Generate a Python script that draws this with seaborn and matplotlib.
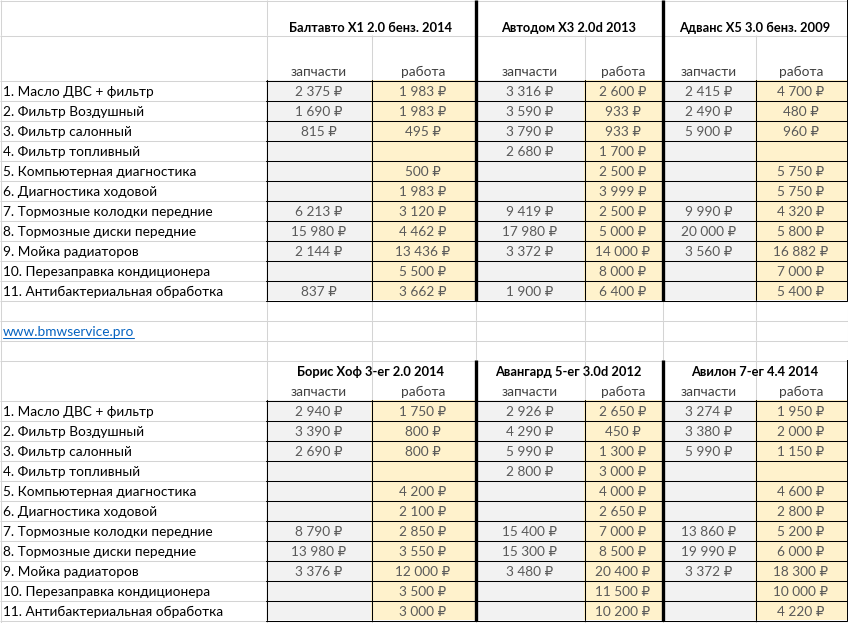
"""
Сравнение цен на ТО BMW у дилеров (таблица в стиле Excel)
"""

import matplotlib
matplotlib.use("Agg")
import matplotlib.pyplot as plt
import seaborn as sns

# ------------------------------------------------------------------
# Данные
# ------------------------------------------------------------------
ITEMS = [
    "1. Масло ДВС + фильтр",
    "2. Фильтр Воздушный",
    "3. Фильтр салонный",
    "4. Фильтр топливный",
    "5. Компьютерная диагностика",
    "6. Диагностика ходовой",
    "7. Тормозные колодки передние",
    "8. Тормозные диски передние",
    "9. Мойка радиаторов",
    "10. Перезаправка кондиционера",
    "11. Антибактериальная обработка",
]
SUB_HEADERS = ["запчасти", "работа"]
LINK = "www.bmwservice.pro"

TOP_DEALERS = ["Балтавто X1 2.0 бенз. 2014", "Автодом X3 2.0d 2013", "Адванс X5 3.0 бенз. 2009"]
TOP_PARTS = [
    [2375, 1690, 815, None, None, None, 6213, 15980, 2144, None, 837],
    [3316, 3590, 3790, 2680, None, None, 9419, 17980, 3372, None, 1900],
    [2415, 2490, 5900, None, None, None, 9990, 20000, 3560, None, None],
]
TOP_WORK = [
    [1983, 1983, 495, None, 500, 1983, 3120, 4462, 13436, 5500, 3662],
    [2600, 933, 933, 1700, 2500, 3999, 2500, 5000, 14000, 8000, 6400],
    [4700, 480, 960, None, 5750, 5750, 4320, 5800, 16882, 7000, 5400],
]

BOTTOM_DEALERS = ["Борис Хоф 3-ег 2.0 2014", "Авангард 5-ег 3.0d 2012", "Авилон 7-ег 4.4 2014"]
BOTTOM_PARTS = [
    [2940, 3390, 2690, None, None, None, 8790, 13980, 3376, None, None],
    [2926, 4290, 5990, 2800, None, None, 15400, 15300, 3480, None, None],
    [3274, 3380, 5990, None, None, None, 13860, 19990, 3372, None, None],
]
BOTTOM_WORK = [
    [1750, 800, 800, None, 4200, 2100, 2850, 3550, 12000, 3500, 3000],
    [2650, 450, 1300, 3000, 4000, 2650, 7000, 8500, 20400, 11500, 10200],
    [1950, 2000, 1150, None, 4600, 2800, 5200, 6000, 18300, 10000, 4220],
]

# ------------------------------------------------------------------
# Геометрия листа (пиксели)
# ------------------------------------------------------------------
COL_EDGES = [0, 266, 371, 475, 584, 662, 755, 847]
ROW_H = 20
TOP_TITLE = (0, 35)
TOP_HEAD = (35, 80)
BOT_TITLE = (360, 380)
BOT_HEAD = (380, 400)
LINK_ROW = (320, 340)

GRID = "#d4d4d4"
FILL_PARTS = "#f2f2f2"
FILL_WORK = "#fff2cc"
TXT_VAL = "#595959"
TXT_HEAD = "#404040"
FONT = ["Lato", "DejaVu Sans"]
FS = 9.8
FS_TITLE = 9.3

sns.set_theme(style="white")
plt.rcParams["font.family"] = FONT


def fmt(v):
    if v is None:
        return ""
    return f"{v:,}".replace(",", " ") + " ₽"


def row_edges():
    edges = [0, 35, 80]
    edges += [80 + ROW_H * i for i in range(1, 15)]
    edges += [400 + ROW_H * i for i in range(0, 13)]
    return sorted(set(edges))


def draw_grid(ax, rows, merged_rows):
    for y in rows:
        ax.plot([0, 848], [y + 0.5, y + 0.5], color=GRID, lw=0.75, solid_capstyle="butt")
    for y0, y1 in zip(rows[:-1], rows[1:]):
        for i, x in enumerate(COL_EDGES):
            if (y0, y1) in merged_rows and i in (2, 4, 6):
                continue
            ax.plot([x + 0.5, x + 0.5], [y0, y1], color=GRID, lw=0.75, solid_capstyle="butt")


def draw_block(ax, title_row, head_row, dealers, parts, work):
    data_y0 = head_row[1]
    data_y1 = data_y0 + ROW_H * len(ITEMS)

    # заливка
    for d in range(3):
        for k, color in enumerate([FILL_PARTS, FILL_WORK]):
            x0 = COL_EDGES[1 + 2 * d + k]
            x1 = COL_EDGES[2 + 2 * d + k]
            ax.add_patch(plt.Rectangle((x0, data_y0), x1 - x0, data_y1 - data_y0,
                                       facecolor=color, edgecolor="none", zorder=2))

    # тонкие чёрные границы
    for r in range(len(ITEMS) + 1):
        y = data_y0 + ROW_H * r + 0.5
        ax.plot([COL_EDGES[1], COL_EDGES[-1]], [y, y], color="black", lw=0.75, zorder=3)
    for x in COL_EDGES[1:]:
        ax.plot([x + 0.5, x + 0.5], [data_y0, data_y1], color="black", lw=0.75, zorder=3)

    # толстые разделители дилеров
    for x in (COL_EDGES[3], COL_EDGES[5]):
        ax.plot([x + 0.5, x + 0.5], [title_row[0], data_y1 + 1], color="black", lw=2.4,
                solid_capstyle="butt", zorder=4)
    ax.plot([COL_EDGES[-1] + 0.5] * 2, [title_row[0], data_y1 + 1], color="black", lw=1.4,
            solid_capstyle="butt", zorder=4)

    # заголовки
    for d, name in enumerate(dealers):
        xc = (COL_EDGES[1 + 2 * d] + COL_EDGES[3 + 2 * d]) / 2
        ax.text(xc, title_row[1] - 3.5, name, ha="center", va="baseline",
                fontsize=FS_TITLE, fontweight="bold", color="black", zorder=5)
        for k, sub in enumerate(SUB_HEADERS):
            xc = (COL_EDGES[1 + 2 * d + k] + COL_EDGES[2 + 2 * d + k]) / 2
            ax.text(xc, head_row[1] - 3.5, sub, ha="center", va="baseline",
                    fontsize=FS, color=TXT_HEAD, zorder=5)

    # строки
    for r, item in enumerate(ITEMS):
        yb = data_y0 + ROW_H * (r + 1) - 3.5
        ax.text(3, yb, item, ha="left", va="baseline", fontsize=FS, color="black", zorder=5)
        for d in range(3):
            for k, series in enumerate([parts, work]):
                xc = (COL_EDGES[1 + 2 * d + k] + COL_EDGES[2 + 2 * d + k]) / 2
                ax.text(xc, yb, fmt(series[d][r]), ha="center", va="baseline",
                        fontsize=FS, color=TXT_VAL, zorder=5)


def main():
    fig = plt.figure(figsize=(8.48, 6.23), dpi=100)
    ax = fig.add_axes([0, 0, 1, 1])
    ax.set_xlim(0, 848)
    ax.set_ylim(623, 0)
    ax.axis("off")

    rows = row_edges()
    draw_grid(ax, rows, merged_rows=[TOP_TITLE, BOT_TITLE])

    draw_block(ax, TOP_TITLE, TOP_HEAD, TOP_DEALERS, TOP_PARTS, TOP_WORK)
    draw_block(ax, BOT_TITLE, BOT_HEAD, BOTTOM_DEALERS, BOTTOM_PARTS, BOTTOM_WORK)

    # ссылка
    t = ax.text(3, LINK_ROW[1] - 3.5, LINK, ha="left", va="baseline", fontsize=FS,
                color="#0563c1", zorder=5)
    fig.canvas.draw()
    bb = t.get_window_extent().transformed(ax.transData.inverted())
    ax.plot([bb.x0, bb.x1], [LINK_ROW[1] - 2, LINK_ROW[1] - 2], color="#0563c1", lw=0.75, zorder=5)

    fig.savefig("out.png", dpi=100)
    plt.close(fig)


if __name__ == "__main__":
    main()
